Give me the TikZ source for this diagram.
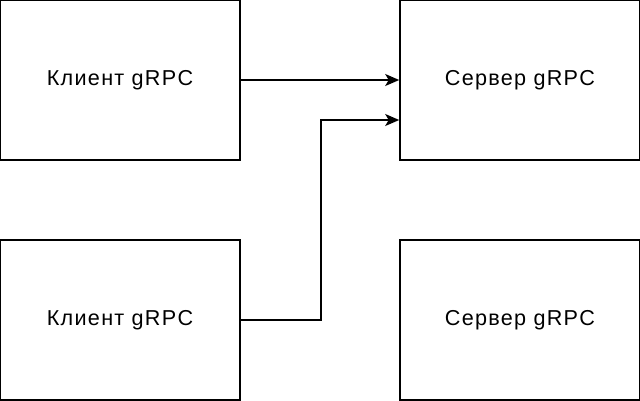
\documentclass[tikz,border=0pt]{standalone}
\usepackage{fontspec}
\setmainfont{Liberation Sans}[LetterSpace=6]
\usetikzlibrary{arrows.meta, positioning}

\begin{document}
\begin{tikzpicture}[x=1pt,y=-1pt,line width=1.6pt,
  box/.style={draw,rectangle,minimum width=240pt,minimum height=160pt,inner sep=0pt,font=\fontsize{21.6}{26}\selectfont},
  arr/.style={-{Stealth[length=14pt,width=12pt,inset=3.5pt]}}]
\useasboundingbox (0,0) rectangle (640,400);
% Clients and servers
\foreach \i/\y in {1/80,2/320} {
  \node[box] (K\i) at (120,\y) {Клиент gRPC};
  \node[box] (S\i) at (520,\y) {Сервер gRPC};
}
% Calls
\draw[arr] (K1.east) -- (S1.west);
\draw[arr] (K2.east) -- ++(80,0) |- ([yshift=-40pt]S1.west);
\end{tikzpicture}
\end{document}
